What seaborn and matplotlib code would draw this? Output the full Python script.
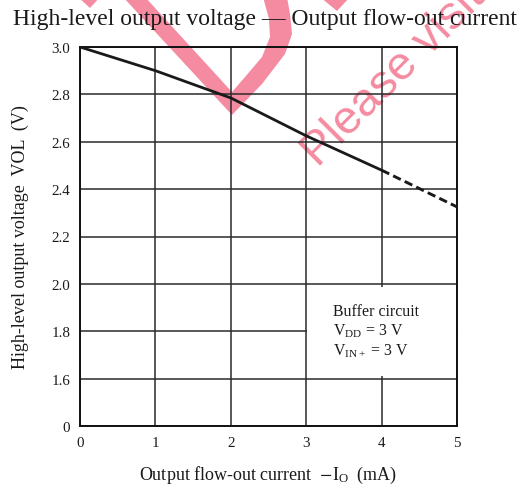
import matplotlib
matplotlib.use("Agg")
import matplotlib.pyplot as plt
from matplotlib.patches import Polygon, Rectangle
import seaborn as sns
import pandas as pd

# data
current_solid = [0, 1, 2, 3, 4]
voltage_solid = [3.00, 2.90, 2.785, 2.625, 2.48]
current_dash = [4, 5]
voltage_dash = [2.48, 2.325]

x_ticks = [0, 1, 2, 3, 4, 5]
y_ticks = [1.4, 1.6, 1.8, 2.0, 2.2, 2.4, 2.6, 2.8, 3.0]
y_tick_labels = ['0', '1.6', '1.8', '2.0', '2.2', '2.4', '2.6', '2.8', '3.0']

title = 'High-level output voltage \u2014 Output flow-out current'
note_lines = ['Buffer circuit', r'V$_{\mathregular{DD}}$ = 3 V', r'V$_{\mathregular{IN+}}$ = 3 V']

sns.set_style('white')
plt.rcParams['font.family'] = ['Liberation Serif', 'DejaVu Serif']
plt.rcParams['mathtext.fontset'] = 'stix'

W, H = 525, 489
fig = plt.figure(figsize=(W / 100, H / 100), dpi=100)
ax = fig.add_axes([80 / W, 1 - 427 / H, (457 - 80) / W, (427 - 48) / H])
ax.set_facecolor('none')

txt = '#1a1a1a'
pink = '#f58ba0'


def px(x, y):
    return (x / W, 1 - y / H)


# watermark behind the chart
wm_shapes = [
    [(123, -2), (232, 116), (262, 85), (285, 55), (292, 35), (290, 15), (287, -2),
     (263, -2), (269, 20), (270, 38), (262, 58), (245, 78), (232, 93), (145, -2)],
    [(78, -2), (100, -2), (90, 9)],
    [(320, -2), (350, -2), (337, 12)],
]
for shp in wm_shapes:
    fig.add_artist(Polygon([px(*p) for p in shp], closed=True, transform=fig.transFigure,
                           facecolor=pink, edgecolor='none', zorder=-5))
fig.text(*px(318, 168), 'Please visit', fontsize=34, color=pink, rotation=45,
         rotation_mode='anchor', ha='left', va='baseline', family='Liberation Sans', zorder=-5)

# curve
df_solid = pd.DataFrame({'current': current_solid, 'voltage': voltage_solid})
df_dash = pd.DataFrame({'current': current_dash, 'voltage': voltage_dash})
sns.lineplot(data=df_solid, x='current', y='voltage', ax=ax, color='#1a1a1a', lw=2.0, zorder=5)
sns.lineplot(data=df_dash, x='current', y='voltage', ax=ax, color='#1a1a1a', lw=2.1,
             dashes=False, linestyle=(0, (2.9, 1.5)), zorder=5)

ax.set_xlim(0, 5)
ax.set_ylim(1.4, 3.0)
ax.set_xticks(x_ticks)
ax.set_yticks(y_ticks)
ax.set_yticklabels(y_tick_labels)
ax.tick_params(length=0, labelsize=10.8, labelcolor=txt, pad=7)
ax.grid(True, color='#2a2a2a', lw=1.1, zorder=1)
ax.set_axisbelow(True)
for s in ax.spines.values():
    s.set_color('#111111')
    s.set_linewidth(1.4)

# white box behind the note
ax.add_patch(Rectangle((3.015, 1.612), 1.97, 0.376, facecolor='white', edgecolor='none', zorder=2))
for i, line in enumerate(note_lines):
    ax.text(3.36, 1.886 - i * 0.084, line, fontsize=11.4, color=txt, va='center', ha='left', zorder=6)

ax.set_xlabel(r'Output flow-out current  $-\mathregular{I_O}$  (mA)', fontsize=13, color=txt, labelpad=11)
ax.set_ylabel('High-level output voltage  VOL  (V)', fontsize=13, color=txt, labelpad=16)
fig.text(265 / W, 1 - 20 / H, title, fontsize=17, color=txt, ha='center', va='center')

fig.savefig('out.png', dpi=100)
